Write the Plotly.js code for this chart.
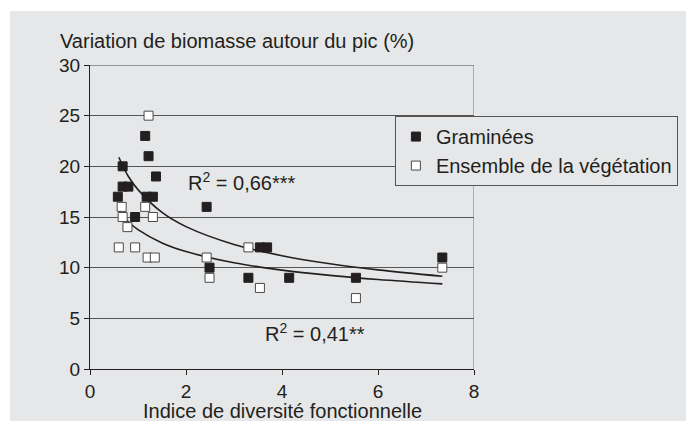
<!DOCTYPE html>
<html>
<head>
<meta charset="utf-8">
<script src="https://cdn.plot.ly/plotly-3.0.1.min.js"></script>
<style>html,body{margin:0;padding:0;background:#fff;}#chart{width:686px;height:421px;}</style>
</head>
<body>
<div id="chart"></div>
<script>
// Graminées (filled squares)
const gramX = [1.15, 1.22, 0.68, 1.375, 0.68, 0.80, 0.58, 1.18, 1.31, 0.94, 2.43, 3.54, 3.69, 2.49, 3.30, 4.15, 5.54, 7.34];
const gramY = [23, 21, 20, 19, 18, 18, 17, 17, 17, 15, 16, 12, 12, 10, 9, 9, 9, 11];
// Ensemble de la végétation (open squares)
const vegX = [1.22, 0.66, 1.15, 0.68, 1.31, 0.78, 0.60, 0.94, 1.20, 1.35, 3.30, 2.43, 2.49, 3.54, 5.54, 7.34];
const vegY = [25, 16, 16, 15, 15, 14, 12, 12, 11, 11, 12, 11, 9, 8, 7, 10];
// Trend curves
const trendX = [0.6, 0.8, 1.0, 1.5, 2.0, 3.0, 4.0, 5.0, 6.0, 7.34];
const gramTrendY = [20.9, 19.0, 17.7, 15.45, 14.05, 12.29, 11.18, 10.38, 9.78, 9.15];
const vegTrendY = [15.6, 14.53, 13.75, 12.44, 11.59, 10.48, 9.76, 9.24, 8.83, 8.4];
const seriesNames = ["Graminées", "Ensemble de la végétation"];
const r2Labels = ["R<sup>2</sup> = 0,66***", "R<sup>2</sup> = 0,41**"];
const xTitle = "Indice de diversité fonctionnelle";
const yTitle = "Variation de biomasse autour du pic (%)";
const xTicks = [0, 2, 4, 6, 8];
const yTicks = [0, 5, 10, 15, 20, 25, 30];

const ink = "#231f20";
const bg = "#e6e7e8";
const font = "Liberation Sans, Arial, sans-serif";
const fs = 20;
const tfs = 19;

const traces = [
  {x: trendX, y: gramTrendY, mode: "lines", line: {color: ink, width: 1.6, shape: "spline"}, showlegend: false, hoverinfo: "skip"},
  {x: trendX, y: vegTrendY, mode: "lines", line: {color: ink, width: 1.6, shape: "spline"}, showlegend: false, hoverinfo: "skip"},
  {x: gramX, y: gramY, mode: "markers", name: seriesNames[0],
   marker: {symbol: "square", size: 9, color: ink, line: {color: ink, width: 1}}},
  {x: vegX, y: vegY, mode: "markers", name: seriesNames[1],
   marker: {symbol: "square", size: 9, color: "#ffffff", line: {color: "#4a4a4a", width: 1}}}
];

const layout = {
  width: 686, height: 421,
  margin: {l: 90, r: 212, t: 65, b: 52, autoexpand: false},
  paper_bgcolor: "#ffffff",
  plot_bgcolor: "rgba(0,0,0,0)",
  font: {family: font, size: fs, color: ink},
  showlegend: true,
  xaxis: {
    range: [0, 8], tickvals: xTicks, ticktext: xTicks.map(String),
    showgrid: false, zeroline: false,
    showline: true, linecolor: ink, linewidth: 1,
    ticks: "outside", ticklen: 5, tickcolor: ink, tickwidth: 1,
    tickfont: {family: font, size: tfs, color: ink}, automargin: false
  },
  yaxis: {
    range: [0, 30], tickvals: yTicks, ticktext: yTicks.map(String),
    showgrid: true, gridcolor: "#555555", gridwidth: 1, zeroline: false,
    showline: true, linecolor: ink, linewidth: 1,
    ticks: "outside", ticklen: 5, tickcolor: ink, tickwidth: 1,
    tickfont: {family: font, size: tfs, color: ink}, automargin: false
  },
  legend: {
    x: 0.794, y: 0.832, xanchor: "left", yanchor: "top",
    bgcolor: bg, bordercolor: "#555555", borderwidth: 1,
    font: {family: font, size: fs, color: ink}
  },
  shapes: [
    {type: "rect", xref: "paper", yref: "paper", x0: -0.2083, x1: 1.552, y0: -0.171, y1: 1.178,
     fillcolor: bg, line: {width: 0}, layer: "below"},
    {type: "line", xref: "x", yref: "y", x0: 8, x1: 8, y0: 0, y1: 30, line: {color: "#9a9a9a", width: 1.5}, layer: "below"},
    {type: "line", xref: "x", yref: "y", x0: 0, x1: 8, y0: 30, y1: 30, line: {color: "#777777", width: 1.5}, layer: "below"}
  ],
  annotations: [
    {text: yTitle, xref: "paper", yref: "paper",
     x: -0.083, y: 1.079, xanchor: "left", yanchor: "middle", showarrow: false,
     font: {family: font, size: fs, color: ink}},
    {text: xTitle, xref: "paper", yref: "paper",
     x: 0.5, y: -0.137, xanchor: "center", yanchor: "middle", showarrow: false,
     font: {family: font, size: fs, color: ink}},
    {text: r2Labels[0], xref: "x", yref: "y", x: 2.0, y: 18.5, xanchor: "left", showarrow: false,
     font: {family: font, size: fs, color: ink}},
    {text: r2Labels[1], xref: "x", yref: "y", x: 3.6, y: 3.6, xanchor: "left", showarrow: false,
     font: {family: font, size: fs, color: ink}}
  ]
};

Plotly.newPlot("chart", traces, layout, {displayModeBar: false, staticPlot: true});
</script>
</body>
</html>
